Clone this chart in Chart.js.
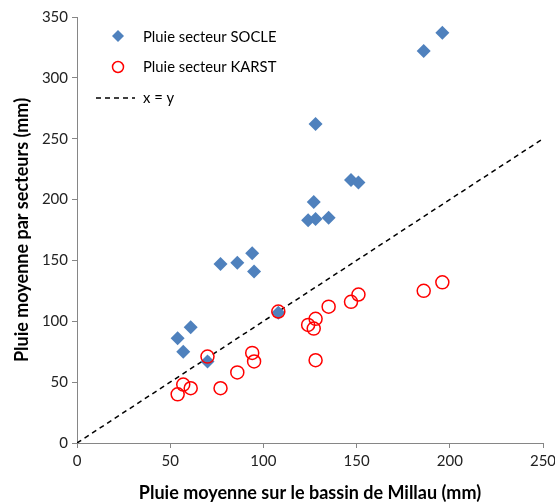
<!DOCTYPE html>
<html>
<head>
<meta charset="utf-8">
<script src="https://cdn.jsdelivr.net/npm/chart.js@4/dist/chart.umd.min.js"></script>
<style>
  html, body { margin: 0; padding: 0; background: #fff; }
  #wrap { width: 555px; height: 504px; }
</style>
</head>
<body>
<div id="wrap"><canvas id="pluie" width="555" height="504"></canvas></div>
<script>
// pluie moyenne sur le bassin (mm), une valeur par épisode
const basinRain = [196, 186, 128, 127, 147, 151, 124, 128, 135, 77, 86, 94, 95, 54, 61, 57, 70, 108];
// pluie moyenne par secteur (mm)
const socleRain = [337, 322, 262, 198, 216, 214, 183, 184, 185, 147, 148, 156, 141, 86, 95, 75, 67, 107];
const karstRain = [132, 125, 68, 94, 116, 122, 97, 102, 112, 45, 58, 74, 67, 40, 45, 48, 71, 108];
const diagonal = [0, 250];

const xTicks = [0, 50, 100, 150, 200, 250];
const yTicks = [0, 50, 100, 150, 200, 250, 300, 350];

const toPoints = (xs, ys) => xs.map((x, i) => ({ x: x, y: ys[i] }));

const BLUE = "#4F81BD";
const RED = "#FF0000";
const AXIS = "#868686";
const FONT = "Lato, 'Open Sans', sans-serif";

// légende dessinée dans la zone du graphique, à la manière d'Excel
const insideLegend = {
  id: "insideLegend",
  afterDraw(chart) {
    const ctx = chart.ctx;
    ctx.save();
    ctx.font = "14.8px " + FONT;
    ctx.fillStyle = "#000";
    ctx.textBaseline = "middle";

    // SOCLE
    ctx.fillStyle = BLUE;
    ctx.beginPath();
    ctx.moveTo(118, 30); ctx.lineTo(124, 36); ctx.lineTo(118, 42); ctx.lineTo(112, 36);
    ctx.closePath();
    ctx.fill();
    ctx.fillStyle = "#000";
    ctx.fillText("Pluie secteur SOCLE", 143, 37);

    // KARST
    ctx.strokeStyle = RED;
    ctx.lineWidth = 1.5;
    ctx.beginPath();
    ctx.arc(118, 67, 5.5, 0, Math.PI * 2);
    ctx.stroke();
    ctx.fillText("Pluie secteur KARST", 143, 67);

    // x = y
    ctx.strokeStyle = "#000";
    ctx.setLineDash([5, 4]);
    ctx.beginPath();
    ctx.moveTo(96, 98); ctx.lineTo(135, 98);
    ctx.stroke();
    ctx.setLineDash([]);
    ctx.fillText("x = y", 143, 98);
    ctx.restore();
  }
};

new Chart(document.getElementById("pluie"), {
  type: "scatter",
  data: {
    datasets: [
      {
        label: "Pluie secteur KARST",
        data: toPoints(basinRain, karstRain),
        pointStyle: "circle",
        pointRadius: 6.5,
        pointBorderWidth: 1.5,
        pointBorderColor: RED,
        pointBackgroundColor: "rgba(0,0,0,0)",
        order: 0
      },
      {
        label: "Pluie secteur SOCLE",
        data: toPoints(basinRain, socleRain),
        pointStyle: "rectRot",
        pointRadius: 7,
        pointBorderWidth: 0,
        pointBackgroundColor: BLUE,
        pointBorderColor: BLUE,
        order: 1
      },
      {
        label: "x = y",
        data: toPoints(diagonal, diagonal),
        showLine: true,
        borderColor: "#000",
        borderWidth: 1.5,
        borderDash: [5, 4],
        pointRadius: 0,
        order: 2
      }
    ]
  },
  options: {
    responsive: false,
    animation: false,
    layout: { padding: { top: 17, right: 12, left: 11, bottom: 0 } },
    plugins: {
      legend: { display: false },
      tooltip: { enabled: false }
    },
    scales: {
      x: {
        type: "linear",
        min: 0,
        max: 250,
        afterBuildTicks: (scale) => { scale.ticks = xTicks.map(v => ({ value: v })); },
        afterFit: (scale) => {
          scale.height = 61;
          // le libellé « 250 » peut déborder dans la marge
          scale.paddingLeft = 0;
          scale.paddingRight = 0;
        },
        border: { color: AXIS, width: 1 },
        grid: { drawOnChartArea: false, drawTicks: true, tickLength: 5, color: AXIS },
        ticks: { color: "#222", font: { family: FONT, size: 15 }, padding: 4 },
        title: {
          display: true,
          text: "Pluie moyenne sur le bassin de Millau (mm)",
          color: "#000",
          font: { family: FONT, size: 18, weight: "bold" },
          padding: { top: 2, bottom: 0 }
        }
      },
      y: {
        type: "linear",
        min: 0,
        max: 350,
        afterBuildTicks: (scale) => { scale.ticks = yTicks.map(v => ({ value: v })); },
        afterFit: (scale) => {
          scale.width = 66;
          scale.paddingTop = 0;
          scale.paddingBottom = 0;
        },
        border: { color: AXIS, width: 1 },
        grid: { drawOnChartArea: false, drawTicks: true, tickLength: 5, color: AXIS },
        ticks: { color: "#222", font: { family: FONT, size: 15 }, padding: 4 },
        title: {
          display: true,
          text: "Pluie moyenne par secteurs (mm)",
          color: "#000",
          font: { family: FONT, size: 18, weight: "bold" },
          padding: { top: 0, bottom: 4 }
        }
      }
    }
  },
  plugins: [insideLegend]
});
</script>
</body>
</html>
